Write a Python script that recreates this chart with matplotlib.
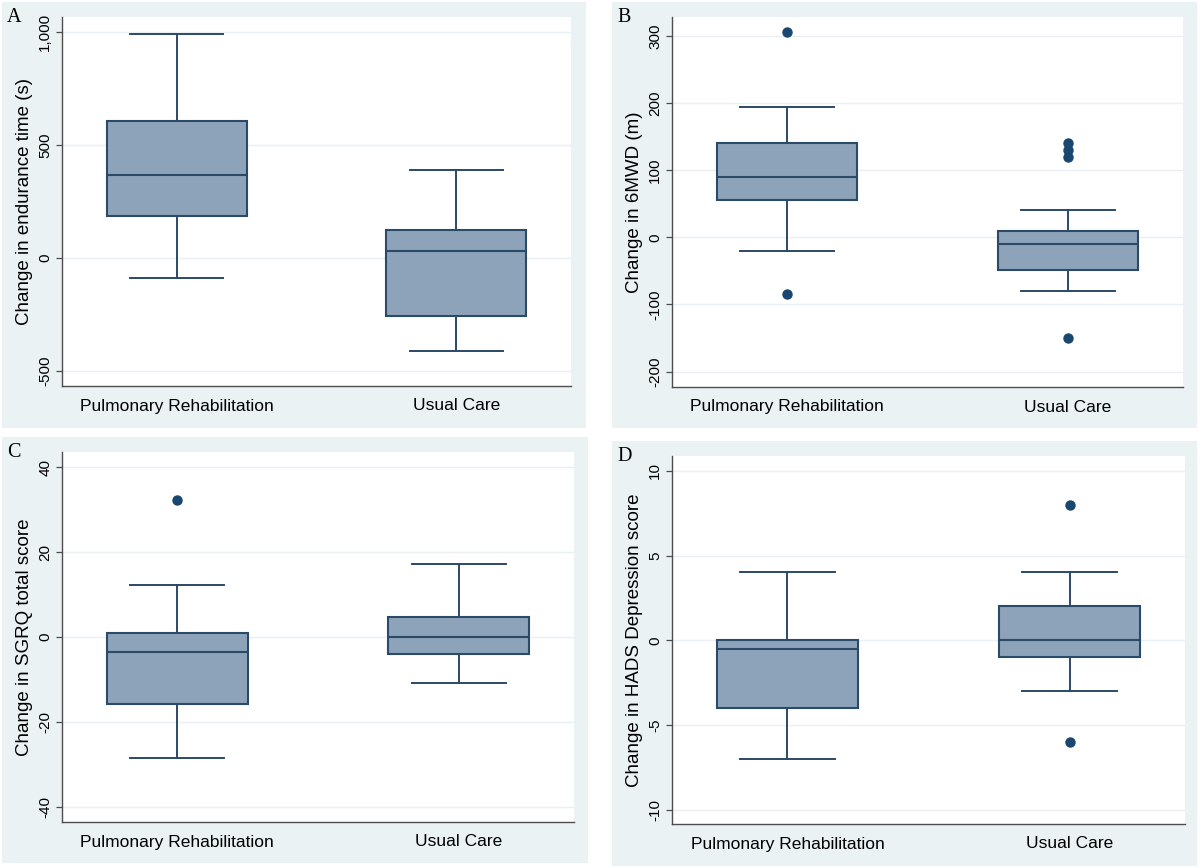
import matplotlib
matplotlib.use("Agg")
import matplotlib.pyplot as plt
from matplotlib.patches import Rectangle

plt.rcParams["axes.unicode_minus"] = False

# ---- data ----
groups = ["Pulmonary Rehabilitation", "Usual Care"]

endurance_lo = [-90, -410]
endurance_q1 = [184, -258]
endurance_med = [369, 29]
endurance_q3 = [606, 126]
endurance_hi = [990, 389]
endurance_out = [[], []]

walk_lo = [-20, -80]
walk_q1 = [56, -49]
walk_med = [89, -10]
walk_q3 = [141, 9]
walk_hi = [194, 40]
walk_out = [[306, -84], [140, 130, 120, -150]]

sgrq_lo = [-28.4, -10.8]
sgrq_q1 = [-15.7, -4.0]
sgrq_med = [-3.5, 0.0]
sgrq_q3 = [1.0, 4.6]
sgrq_hi = [12.3, 17.2]
sgrq_out = [[32.4], []]

hads_lo = [-7, -3]
hads_q1 = [-4, -1]
hads_med = [-0.5, 0]
hads_q3 = [0, 2]
hads_hi = [4, 4]
hads_out = [[], [8, -6]]

W, H = 1200, 868
BG = "#eaf2f3"
FILL = "#8da3b9"
LINE = "#2b4a68"
DOT = "#1a476f"
GRID = "#e9eff2"
SPINE = "#4d4d4d"

SANS = "Liberation Sans"
SERIF = "Liberation Serif"


def frac_box(x0, y0, x1, y1):
    # pixel box (top-left origin) -> figure fraction [l, b, w, h]
    return [x0 / W, 1 - y1 / H, (x1 - x0) / W, (y1 - y0) / H]


def make_stats(lo, q1, med, q3, hi, out):
    return [
        dict(whislo=lo[i], q1=q1[i], med=med[i], q3=q3[i], whishi=hi[i], fliers=out[i])
        for i in range(len(groups))
    ]


panels = [
    dict(letter="A", outer=(2, 2, 586, 428), plot=(62, 17, 571, 386),
         stats=make_stats(endurance_lo, endurance_q1, endurance_med, endurance_q3, endurance_hi, endurance_out),
         ylim=(-566, 1066), ticks=[-500, 0, 500, 1000], labels=["-500", "0", "500", "1,000"],
         ylabel="Change in endurance time (s)"),
    dict(letter="B", outer=(612, 2, 1197, 428), plot=(672, 17, 1183, 387),
         stats=make_stats(walk_lo, walk_q1, walk_med, walk_q3, walk_hi, walk_out),
         ylim=(-223, 328), ticks=[-200, -100, 0, 100, 200, 300], labels=None,
         ylabel="Change in 6MWD (m)"),
    dict(letter="C", outer=(2, 437, 588, 863), plot=(62, 452, 574, 822),
         stats=make_stats(sgrq_lo, sgrq_q1, sgrq_med, sgrq_q3, sgrq_hi, sgrq_out),
         ylim=(-43.6, 43.6), ticks=[-40, -20, 0, 20, 40], labels=None,
         ylabel="Change in SGRQ total score"),
    dict(letter="D", outer=(612, 441, 1197, 866), plot=(672, 456, 1185, 824),
         stats=make_stats(hads_lo, hads_q1, hads_med, hads_q3, hads_hi, hads_out),
         ylim=(-10.84, 10.87), ticks=[-10, -5, 0, 5, 10], labels=None,
         ylabel="Change in HADS Depression score"),
]

fig = plt.figure(figsize=(W / 100, H / 100), dpi=100)
fig.patch.set_facecolor("white")

for p in panels:
    # ---- light panel background ----
    ox0, oy0, ox1, oy1 = p["outer"]
    l, b, w, h = frac_box(ox0, oy0, ox1, oy1)
    fig.patches.append(Rectangle((l, b), w, h, transform=fig.transFigure,
                                 facecolor=BG, edgecolor="none", zorder=-5))
    fig.text((ox0 + 5) / W, 1 - (oy0 + 6) / H, p["letter"], family=SERIF,
             fontsize=14.5, ha="left", va="top")

    ax = fig.add_axes(frac_box(*p["plot"]))
    ax.set_zorder(1)
    ax.set_facecolor("white")
    ax.bxp(
        p["stats"], positions=[1, 2], widths=0.5, patch_artist=True,
        showcaps=True,
        boxprops=dict(facecolor=FILL, edgecolor=LINE, linewidth=1.5),
        medianprops=dict(color=LINE, linewidth=1.5),
        whiskerprops=dict(color=LINE, linewidth=1.4),
        capprops=dict(color=LINE, linewidth=1.4),
        flierprops=dict(marker="o", markerfacecolor=DOT, markeredgecolor=DOT,
                        markersize=6.5, linestyle="none"),
        capwidths=0.335,
    )
    ax.set_xlim(0.591, 2.409)
    ax.set_ylim(*p["ylim"])
    ax.set_yticks(p["ticks"])
    if p["labels"]:
        ax.set_yticklabels(p["labels"])
    ax.set_xticks([1, 2])
    ax.set_xticklabels(groups, family=SANS, fontsize=12.5)
    ax.tick_params(axis="x", length=0, pad=9)
    ax.tick_params(axis="y", length=4, width=0.9, color=SPINE, pad=3,
                   labelsize=11, labelrotation=90)
    for t in ax.get_yticklabels():
        t.set_family(SANS)
        t.set_va("center")
    ax.grid(axis="y", color=GRID, linewidth=1.0)
    ax.set_axisbelow(True)
    for side in ("top", "right"):
        ax.spines[side].set_visible(False)
    for side in ("left", "bottom"):
        ax.spines[side].set_color(SPINE)
        ax.spines[side].set_linewidth(1.0)
    ax.set_ylabel(p["ylabel"], family=SANS, fontsize=13.5, labelpad=4)

fig.savefig("out.png", dpi=100)
